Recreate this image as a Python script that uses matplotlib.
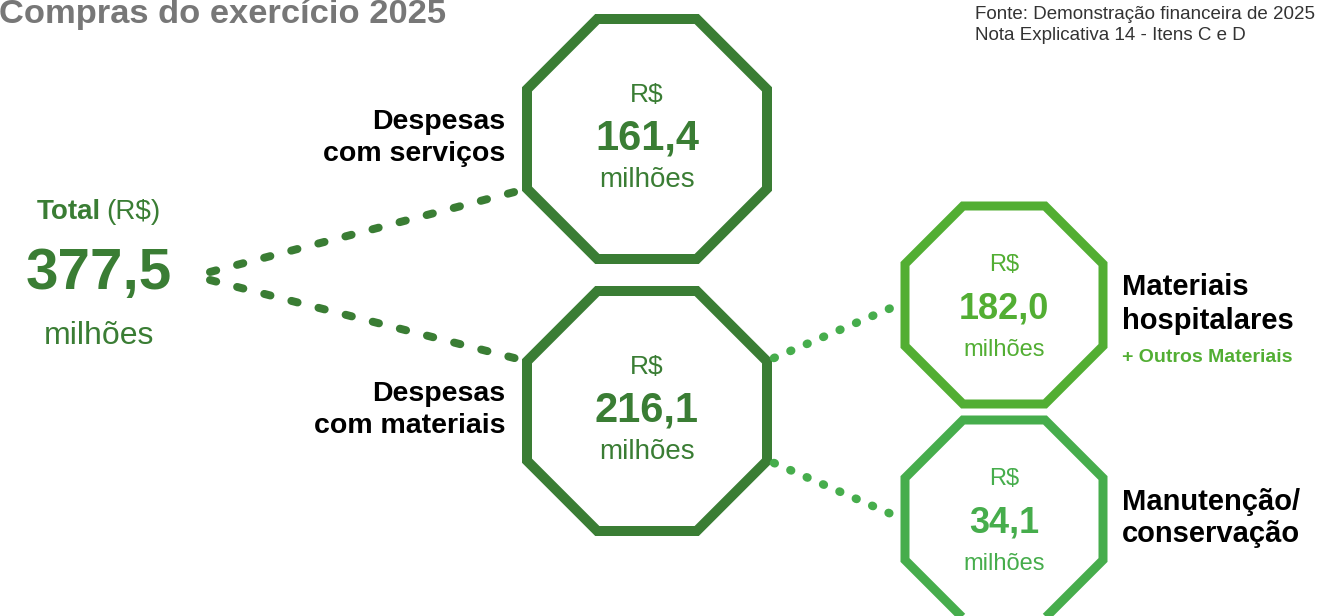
import numpy as np
import matplotlib
matplotlib.use("Agg")
import matplotlib.pyplot as plt
from matplotlib.patches import RegularPolygon

# dados (R$ milhões)
total_label = "377,5"
group_names = ["Despesas\ncom serviços", "Despesas\ncom materiais"]
group_values = ["161,4", "216,1"]
sub_names = ["Materiais\nhospitalares", "Manutenção/\nconservação"]
sub_values = ["182,0", "34,1"]
title = "Compras do exercício 2025"
source = "Fonte: Demonstração financeira de 2025\nNota Explicativa 14 - Itens C e D"

plt.rcParams['font.family'] = ["Liberation Sans", 'DejaVu Sans']

DARK = "#3a7d34"
LIGHT1 = "#52ae33"
LIGHT2 = "#46ad4c"
GRAY = "#777777"

W, H = 1323, 616
fig = plt.figure(figsize=(W / 100, H / 100), dpi=100)
ax = fig.add_axes([0, 0, 1, 1])
ax.set_xlim(0, W)
ax.set_ylim(H, 0)
ax.axis("off")

px = 72 / 100  # pixels -> points


def octagon(cx, cy, apothem, color, lw):
    r = apothem / np.cos(np.pi / 8)
    ax.add_patch(RegularPolygon((cx, cy), 8, radius=r, orientation=np.pi / 8,
                                fill=False, edgecolor=color, linewidth=lw * px,
                                joinstyle="miter"))


def dotted(p0, p1, color, lw, dashes):
    ax.plot([p0[0], p1[0]], [p0[1], p1[1]], color=color, lw=lw * px,
            dashes=dashes, dash_capstyle="round")


# titulo e fonte
ax.text(-1, 15, title, fontsize=24.8, fontweight="bold", color=GRAY,
        ha="left", va="center")
ax.text(975, 25, source, fontsize=13.5, color="#333333", ha="left",
        va="center", linespacing=1.35)

# total
ax.text(101, 212, "Total", fontsize=20, fontweight="bold", color=DARK,
        ha="right", va="center")
ax.text(106, 212, "(R$)", fontsize=20, color=DARK, ha="left", va="center")
ax.text(99, 274, total_label, fontsize=42, fontweight="bold", color=DARK,
        ha="center", va="center")
ax.text(99, 336, "milhões", fontsize=23, color=DARK, ha="center", va="center")

# linhas pontilhadas
dotted((210, 272), (522, 190), DARK, 8, (0.8, 2.7))
dotted((210, 280), (522, 360), DARK, 8, (0.8, 2.7))
dotted((774, 358), (898, 305), LIGHT2, 8.5, (0.1, 2.0))
dotted((774, 463), (898, 517), LIGHT2, 8.5, (0.1, 2.0))

# octogonos grandes
big_centers = [(647, 139), (647, 411)]
for (cx, cy), name, val in zip(big_centers, group_names, group_values):
    octagon(cx, cy, 120, DARK, 10)
    ax.text(cx, cy - 44, "R$", fontsize=19, color=DARK, ha="center", va="center")
    ax.text(cx, cy, val, fontsize=30, fontweight="bold", color=DARK,
            ha="center", va="center")
    ax.text(cx, cy + 41, "milhões", fontsize=20, color=DARK, ha="center",
            va="center")
    ax.text(505, cy - 1, name, fontsize=20.5, fontweight="bold", color="black",
            ha="right", va="center", linespacing=1.3)

# octogonos pequenos
small_centers = [(1004, 305), (1004, 519)]
small_colors = [LIGHT1, LIGHT2]
for (cx, cy), name, val, col in zip(small_centers, sub_names, sub_values,
                                      small_colors):
    octagon(cx, cy, 99, col, 9)
    ax.text(cx, cy - 40, "R$", fontsize=17, color=col, ha="center", va="center")
    ax.text(cx, cy + 4, val, fontsize=26, fontweight="bold", color=col,
            ha="center", va="center")
    ax.text(cx, cy + 45, "milhões", fontsize=17, color=col, ha="center",
            va="center")

ax.text(1122, 304, sub_names[0], fontsize=21, fontweight="bold", color="black",
        ha="left", va="center", linespacing=1.25)
ax.text(1122, 357, "+ Outros Materiais", fontsize=14, fontweight="bold",
        color=LIGHT1, ha="left", va="center")
ax.text(1122, 518, sub_names[1], fontsize=21, fontweight="bold", color="black",
        ha="left", va="center", linespacing=1.2)

fig.savefig("out.png", dpi=100)
